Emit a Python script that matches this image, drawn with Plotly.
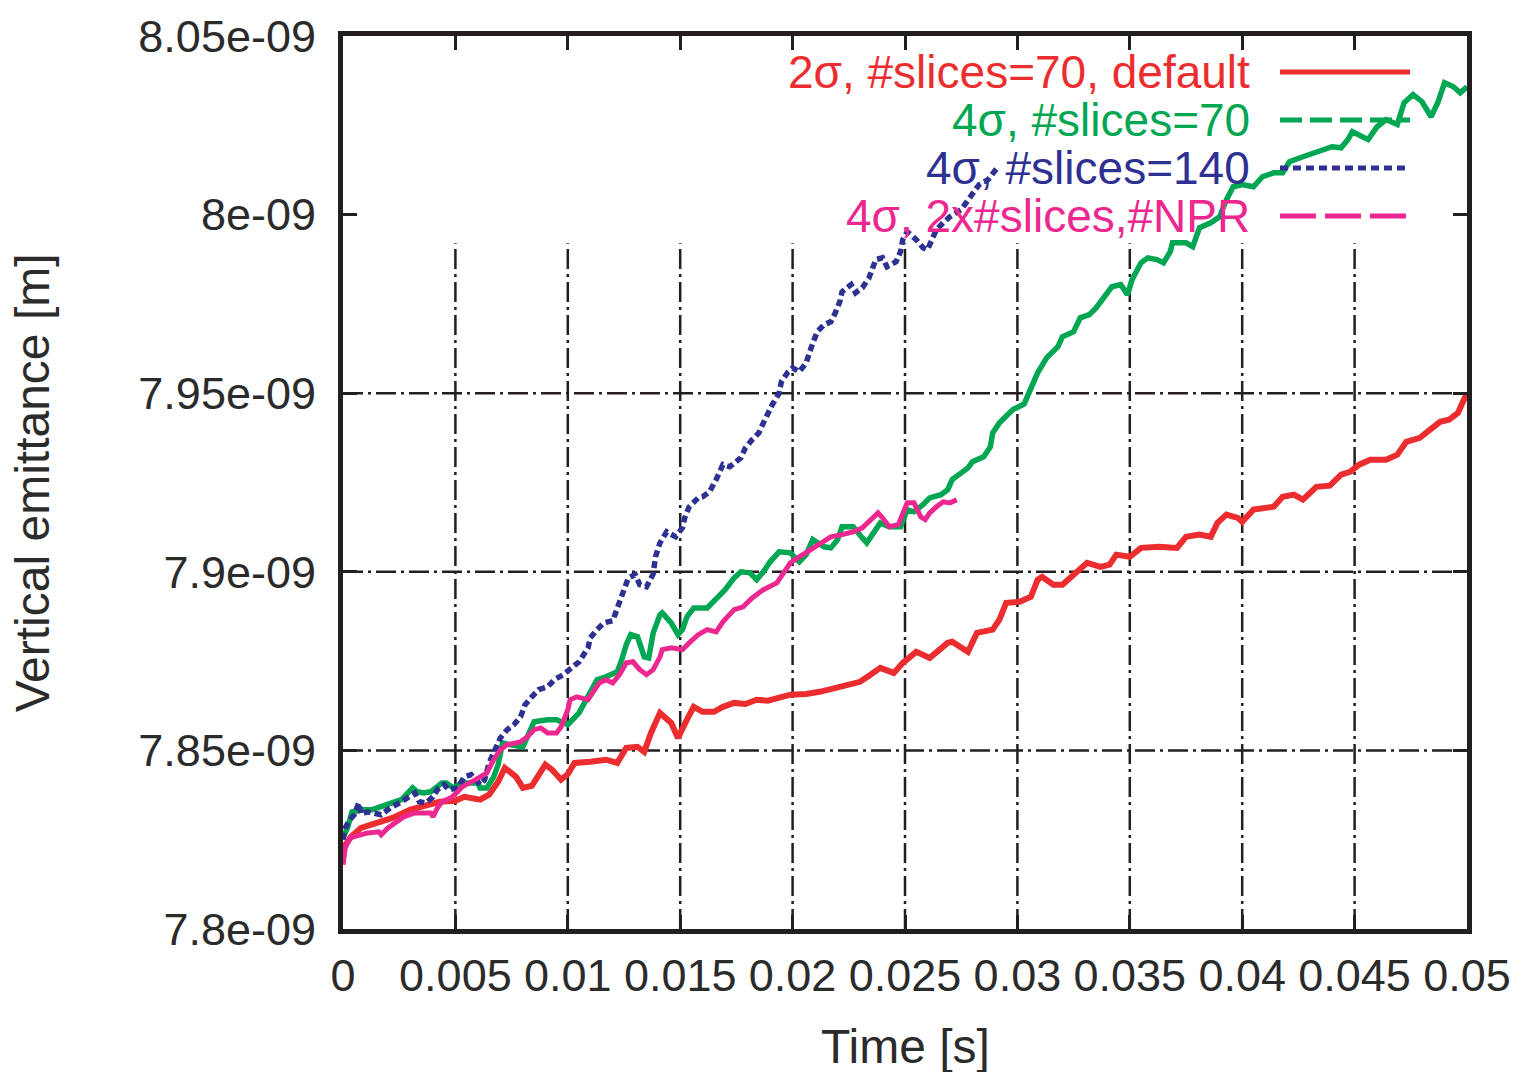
import plotly.graph_objects as go

# ---- data: time [s] and vertical emittance [nm] ----
red_t = [0.0000, 0.0004, 0.0008, 0.0013, 0.0022, 0.0030, 0.0036, 0.0043, 0.0050, 0.0054,
         0.0061, 0.0065, 0.0069, 0.0072, 0.0077, 0.0080, 0.0084, 0.0090, 0.0093, 0.0097,
         0.0100, 0.0103, 0.0110, 0.0117, 0.0122, 0.0126, 0.0131, 0.0134, 0.0137, 0.0141,
         0.0146, 0.0149, 0.0153, 0.0156, 0.0160, 0.0165, 0.0169, 0.0174, 0.0179, 0.0184,
         0.0189, 0.0194, 0.0199, 0.0206, 0.0212, 0.0221, 0.0230, 0.0234, 0.0239, 0.0245,
         0.0249, 0.0255, 0.0261, 0.0269, 0.0271, 0.0278, 0.0282, 0.0289, 0.0292, 0.0295,
         0.0301, 0.0306, 0.0309, 0.0311, 0.0316, 0.0320, 0.0327, 0.0331, 0.0337, 0.0341,
         0.0344, 0.0350, 0.0355, 0.0363, 0.0371, 0.0375, 0.0381, 0.0386, 0.0389, 0.0393,
         0.0398, 0.0400, 0.0405, 0.0414, 0.0418, 0.0423, 0.0427, 0.0433, 0.0439, 0.0444,
         0.0448, 0.0452, 0.0457, 0.0464, 0.0469, 0.0473, 0.0479, 0.0484, 0.0488, 0.0492,
         0.0496, 0.0498, 0.0500]
red_emit = [7.8227, 7.8261, 7.8283, 7.8294, 7.8311, 7.8334, 7.8345, 7.8356, 7.8359, 7.8370,
            7.8362, 7.8376, 7.8412, 7.8451, 7.8426, 7.8395, 7.8401, 7.8460, 7.8446, 7.8418,
            7.8434, 7.8465, 7.8468, 7.8474, 7.8465, 7.8507, 7.8510, 7.8496, 7.8549, 7.8605,
            7.8577, 7.8535, 7.8586, 7.8622, 7.8608, 7.8608, 7.8622, 7.8633, 7.8630, 7.8642,
            7.8639, 7.8647, 7.8656, 7.8658, 7.8664, 7.8678, 7.8692, 7.8709, 7.8731, 7.8717,
            7.8745, 7.8776, 7.8759, 7.8801, 7.8804, 7.8776, 7.8829, 7.8838, 7.8866, 7.8913,
            7.8916, 7.8930, 7.8978, 7.8986, 7.8964, 7.8964, 7.9000, 7.9025, 7.9014, 7.9020,
            7.9048, 7.9042, 7.9067, 7.9070, 7.9067, 7.9098, 7.9104, 7.9098, 7.9137, 7.9160,
            7.9151, 7.9140, 7.9174, 7.9182, 7.9210, 7.9216, 7.9202, 7.9238, 7.9241, 7.9272,
            7.9280, 7.9300, 7.9314, 7.9314, 7.9328, 7.9364, 7.9375, 7.9398, 7.9420, 7.9426,
            7.9445, 7.9473, 7.9500]

green_t = [0.0000, 0.0002, 0.0004, 0.0009, 0.0013, 0.0021, 0.0026, 0.0031, 0.0033, 0.0036,
           0.0039, 0.0044, 0.0046, 0.0049, 0.0053, 0.0060, 0.0061, 0.0064, 0.0067, 0.0069,
           0.0071, 0.0074, 0.0080, 0.0085, 0.0091, 0.0095, 0.0100, 0.0105, 0.0110, 0.0113,
           0.0117, 0.0122, 0.0124, 0.0126, 0.0128, 0.0131, 0.0134, 0.0136, 0.0138, 0.0141,
           0.0142, 0.0146, 0.0149, 0.0151, 0.0153, 0.0156, 0.0162, 0.0166, 0.0170, 0.0174,
           0.0177, 0.0181, 0.0184, 0.0187, 0.0190, 0.0194, 0.0199, 0.0203, 0.0206, 0.0209,
           0.0214, 0.0217, 0.0220, 0.0222, 0.0227, 0.0231, 0.0233, 0.0236, 0.0239, 0.0243,
           0.0248, 0.0251, 0.0254, 0.0258, 0.0261, 0.0266, 0.0269, 0.0271, 0.0275, 0.0278,
           0.0280, 0.0285, 0.0288, 0.0289, 0.0292, 0.0298, 0.0303, 0.0306, 0.0309, 0.0313,
           0.0318, 0.0320, 0.0325, 0.0328, 0.0332, 0.0335, 0.0338, 0.0342, 0.0346, 0.0349,
           0.0351, 0.0355, 0.0358, 0.0362, 0.0365, 0.0368, 0.0369, 0.0375, 0.0378, 0.0381,
           0.0386, 0.0390, 0.0393, 0.0396, 0.0400, 0.0405, 0.0409, 0.0414, 0.0418, 0.0421,
           0.0427, 0.0432, 0.0435, 0.0440, 0.0444, 0.0447, 0.0449, 0.0456, 0.0460, 0.0464,
           0.0469, 0.0472, 0.0476, 0.0480, 0.0484, 0.0487, 0.0490, 0.0494, 0.0497, 0.0500]
green_emit = [7.8255, 7.8283, 7.8328, 7.8334, 7.8334, 7.8353, 7.8362, 7.8395, 7.8384, 7.8381,
              7.8384, 7.8409, 7.8409, 7.8395, 7.8409, 7.8409, 7.8395, 7.8395, 7.8426, 7.8460,
              7.8521, 7.8516, 7.8510, 7.8580, 7.8586, 7.8586, 7.8572, 7.8605, 7.8661, 7.8698,
              7.8706, 7.8720, 7.8754, 7.8796, 7.8824, 7.8818, 7.8762, 7.8759, 7.8829, 7.8880,
              7.8885, 7.8857, 7.8824, 7.8838, 7.8874, 7.8899, 7.8899, 7.8922, 7.8950, 7.8983,
              7.9000, 7.8997, 7.8978, 7.9000, 7.9028, 7.9056, 7.9053, 7.9028, 7.9048, 7.9090,
              7.9070, 7.9067, 7.9090, 7.9126, 7.9126, 7.9095, 7.9081, 7.9109, 7.9137, 7.9126,
              7.9126, 7.9174, 7.9168, 7.9188, 7.9207, 7.9216, 7.9230, 7.9258, 7.9277, 7.9291,
              7.9308, 7.9322, 7.9350, 7.9389, 7.9417, 7.9454, 7.9470, 7.9510, 7.9557, 7.9599,
              7.9630, 7.9658, 7.9672, 7.9711, 7.9720, 7.9739, 7.9762, 7.9798, 7.9804, 7.9776,
              7.9818, 7.9865, 7.9879, 7.9874, 7.9865, 7.9896, 7.9921, 7.9921, 7.9910, 7.9963,
              7.9977, 7.9994, 8.0042, 8.0078, 8.0084, 8.0078, 8.0106, 8.0117, 8.0117, 8.0148,
              8.0162, 8.0173, 8.0182, 8.0190, 8.0187, 8.0210, 8.0232, 8.0210, 8.0246, 8.0266,
              8.0252, 8.0313, 8.0336, 8.0316, 8.0274, 8.0313, 8.0369, 8.0358, 8.0341, 8.0358]

blue_t = [0.0000, 0.0001, 0.0003, 0.0005, 0.0007, 0.0008, 0.0011, 0.0017, 0.0021, 0.0026,
          0.0032, 0.0034, 0.0037, 0.0040, 0.0042, 0.0045, 0.0047, 0.0051, 0.0054, 0.0057,
          0.0061, 0.0063, 0.0065, 0.0068, 0.0070, 0.0073, 0.0076, 0.0079, 0.0081, 0.0084,
          0.0087, 0.0091, 0.0094, 0.0098, 0.0102, 0.0105, 0.0109, 0.0110, 0.0113, 0.0116,
          0.0120, 0.0123, 0.0125, 0.0127, 0.0130, 0.0132, 0.0135, 0.0138, 0.0139, 0.0141,
          0.0144, 0.0148, 0.0151, 0.0152, 0.0154, 0.0158, 0.0160, 0.0163, 0.0166, 0.0169,
          0.0172, 0.0177, 0.0179, 0.0182, 0.0185, 0.0187, 0.0189, 0.0191, 0.0194, 0.0195,
          0.0198, 0.0200, 0.0203, 0.0206, 0.0209, 0.0211, 0.0214, 0.0217, 0.0219, 0.0221,
          0.0222, 0.0226, 0.0228, 0.0231, 0.0234, 0.0237, 0.0240, 0.0242, 0.0246, 0.0248,
          0.0249, 0.0251, 0.0255, 0.0258, 0.0260, 0.0262, 0.0264, 0.0267, 0.0270, 0.0275,
          0.0280, 0.0283, 0.0287, 0.0291]
blue_emit = [7.8250, 7.8283, 7.8306, 7.8320, 7.8353, 7.8322, 7.8328, 7.8320, 7.8339, 7.8356,
             7.8381, 7.8356, 7.8353, 7.8370, 7.8390, 7.8404, 7.8390, 7.8395, 7.8426, 7.8432,
             7.8404, 7.8418, 7.8465, 7.8510, 7.8535, 7.8558, 7.8572, 7.8594, 7.8628, 7.8650,
             7.8670, 7.8678, 7.8698, 7.8712, 7.8731, 7.8748, 7.8787, 7.8815, 7.8838, 7.8857,
             7.8863, 7.8922, 7.8950, 7.8983, 7.8992, 7.8964, 7.8958, 7.8994, 7.9042, 7.9081,
             7.9112, 7.9098, 7.9123, 7.9151, 7.9182, 7.9207, 7.9210, 7.9224, 7.9258, 7.9300,
             7.9294, 7.9319, 7.9347, 7.9370, 7.9389, 7.9417, 7.9445, 7.9468, 7.9500, 7.9532,
             7.9560, 7.9571, 7.9560, 7.9585, 7.9641, 7.9672, 7.9692, 7.9700, 7.9725, 7.9756,
             7.9784, 7.9804, 7.9781, 7.9795, 7.9823, 7.9874, 7.9879, 7.9854, 7.9868, 7.9896,
             7.9930, 7.9952, 7.9930, 7.9907, 7.9902, 7.9930, 7.9958, 7.9977, 7.9994, 8.0014,
             8.0061, 8.0084, 8.0098, 8.0131]

pink_t = [0.0000, 0.0001, 0.0003, 0.0008, 0.0011, 0.0016, 0.0017, 0.0020, 0.0024, 0.0027,
          0.0032, 0.0039, 0.0040, 0.0042, 0.0044, 0.0048, 0.0051, 0.0053, 0.0059, 0.0064,
          0.0067, 0.0070, 0.0073, 0.0076, 0.0079, 0.0082, 0.0085, 0.0088, 0.0091, 0.0095,
          0.0097, 0.0100, 0.0101, 0.0104, 0.0109, 0.0111, 0.0114, 0.0117, 0.0120, 0.0123,
          0.0126, 0.0129, 0.0132, 0.0135, 0.0138, 0.0141, 0.0142, 0.0146, 0.0151, 0.0154,
          0.0158, 0.0162, 0.0166, 0.0169, 0.0174, 0.0178, 0.0182, 0.0187, 0.0193, 0.0196,
          0.0199, 0.0203, 0.0208, 0.0212, 0.0217, 0.0222, 0.0227, 0.0231, 0.0234, 0.0238,
          0.0240, 0.0243, 0.0247, 0.0249, 0.0251, 0.0254, 0.0257, 0.0259, 0.0261, 0.0264,
          0.0267, 0.0270, 0.0273]
pink_emit = [7.8180, 7.8227, 7.8255, 7.8264, 7.8269, 7.8272, 7.8264, 7.8283, 7.8300, 7.8314,
             7.8325, 7.8325, 7.8314, 7.8339, 7.8356, 7.8367, 7.8384, 7.8398, 7.8418, 7.8437,
             7.8474, 7.8502, 7.8516, 7.8521, 7.8524, 7.8538, 7.8558, 7.8563, 7.8549, 7.8549,
             7.8566, 7.8614, 7.8642, 7.8650, 7.8642, 7.8661, 7.8689, 7.8698, 7.8689, 7.8712,
             7.8745, 7.8748, 7.8726, 7.8712, 7.8726, 7.8762, 7.8782, 7.8787, 7.8782, 7.8801,
             7.8824, 7.8838, 7.8832, 7.8860, 7.8894, 7.8902, 7.8927, 7.8950, 7.8969, 7.8997,
             7.9025, 7.9042, 7.9062, 7.9081, 7.9098, 7.9104, 7.9112, 7.9123, 7.9140, 7.9165,
             7.9151, 7.9126, 7.9132, 7.9160, 7.9193, 7.9193, 7.9154, 7.9146, 7.9165, 7.9182,
             7.9196, 7.9193, 7.9202]

labels = ["2\u03c3, #slices=70, default", "4\u03c3, #slices=70",
          "4\u03c3, #slices=140", "4\u03c3, 2x#slices,#NPR"]
x_ticks = [0, 0.005, 0.01, 0.015, 0.02, 0.025, 0.03, 0.035, 0.04, 0.045, 0.05]
x_ticktext = ["0", "0.005", "0.01", "0.015", "0.02", "0.025", "0.03", "0.035", "0.04", "0.045", "0.05"]
y_ticks_nm = [7.8, 7.85, 7.9, 7.95, 8.0, 8.05]
y_ticktext = ["7.8e-09", "7.85e-09", "7.9e-09", "7.95e-09", "8e-09", "8.05e-09"]

NM = 1e-9
colors = ["#ec2d30", "#00a651", "#2e3192", "#ec2890"]
plot_dash = ["solid", "solid", "7px,4px", "solid"]
key_dash = ["solid", "22px,8px", "8px,5px", "36px,9px"]
widths = [6, 5.5, 5.5, 5]
series = [(red_t, red_emit), (green_t, green_emit), (blue_t, blue_emit), (pink_t, pink_emit)]

fig = go.Figure()
for (t, e), c, d, w, name in zip(series, colors, plot_dash, widths, labels):
    fig.add_trace(go.Scatter(x=t, y=[v * NM for v in e], mode="lines", name=name,
                             line=dict(color=c, width=w, dash=d), showlegend=False))

INK = "#231f20"
GRID_DASH = "20px,5px,3px,5px"
shapes = []
# vertical grid lines stop below the key area
for xv in x_ticks[1:-1]:
    shapes.append(dict(type="line", xref="x", yref="paper", x0=xv, x1=xv, y0=0, y1=0.768,
                       line=dict(color=INK, width=2.5, dash=GRID_DASH), layer="below"))
for yv in y_ticks_nm[1:4]:
    shapes.append(dict(type="line", xref="paper", yref="y", x0=0, x1=1, y0=yv * NM, y1=yv * NM,
                       line=dict(color=INK, width=2.5, dash=GRID_DASH), layer="below"))

# key: right-aligned labels with line samples to their right
annotations = []
key_y = [0.9597, 0.9059, 0.8522, 0.7984]
for lab, c, kd, ky in zip(labels, colors, key_dash, key_y):
    annotations.append(dict(text=lab, xref="paper", yref="paper", x=0.8087, y=ky,
                            xanchor="right", yanchor="middle", showarrow=False,
                            font=dict(family="Liberation Sans, Arial, sans-serif", size=46, color=c)))
    shapes.append(dict(type="line", xref="paper", yref="paper", x0=0.8336, x1=0.9493, y0=ky, y1=ky,
                       line=dict(color=c, width=5, dash=kd)))

annotations.append(dict(text="Time [s]", xref="paper", yref="paper", x=0.5, y=-0.132,
                        xanchor="center", yanchor="middle", showarrow=False,
                        font=dict(family="Liberation Sans, Arial, sans-serif", size=48, color="#2b2b2b")))
annotations.append(dict(text="Vertical emittance [m]", xref="paper", yref="paper", x=-0.276, y=0.5,
                        xanchor="center", yanchor="middle", textangle=-90, showarrow=False,
                        font=dict(family="Liberation Sans, Arial, sans-serif", size=48, color="#2b2b2b")))

tick_font = dict(family="Liberation Sans, Arial, sans-serif", size=45, color="#2b2b2b")
fig.update_layout(
    width=1530, height=1072,
    margin=dict(l=343, r=63, t=36, b=143, pad=0),
    paper_bgcolor="white", plot_bgcolor="white",
    shapes=shapes, annotations=annotations,
    xaxis=dict(range=[0, 0.05], tickvals=x_ticks, ticktext=x_ticktext, showgrid=False, zeroline=False,
               showline=True, linecolor=INK, linewidth=5, mirror="ticks", ticks="inside",
               ticklen=14, tickwidth=3, tickcolor=INK, tickfont=tick_font,
               ticklabelstandoff=3, automargin=False),
    yaxis=dict(range=[7.8 * NM, 8.05 * NM], tickvals=[v * NM for v in y_ticks_nm], ticktext=y_ticktext,
               showgrid=False, zeroline=False, showline=True, linecolor=INK, linewidth=5,
               mirror="ticks", ticks="inside", ticklen=14, tickwidth=3, tickcolor=INK,
               tickfont=tick_font, ticklabelstandoff=13, automargin=False),
)

fig.write_html("out.html")
